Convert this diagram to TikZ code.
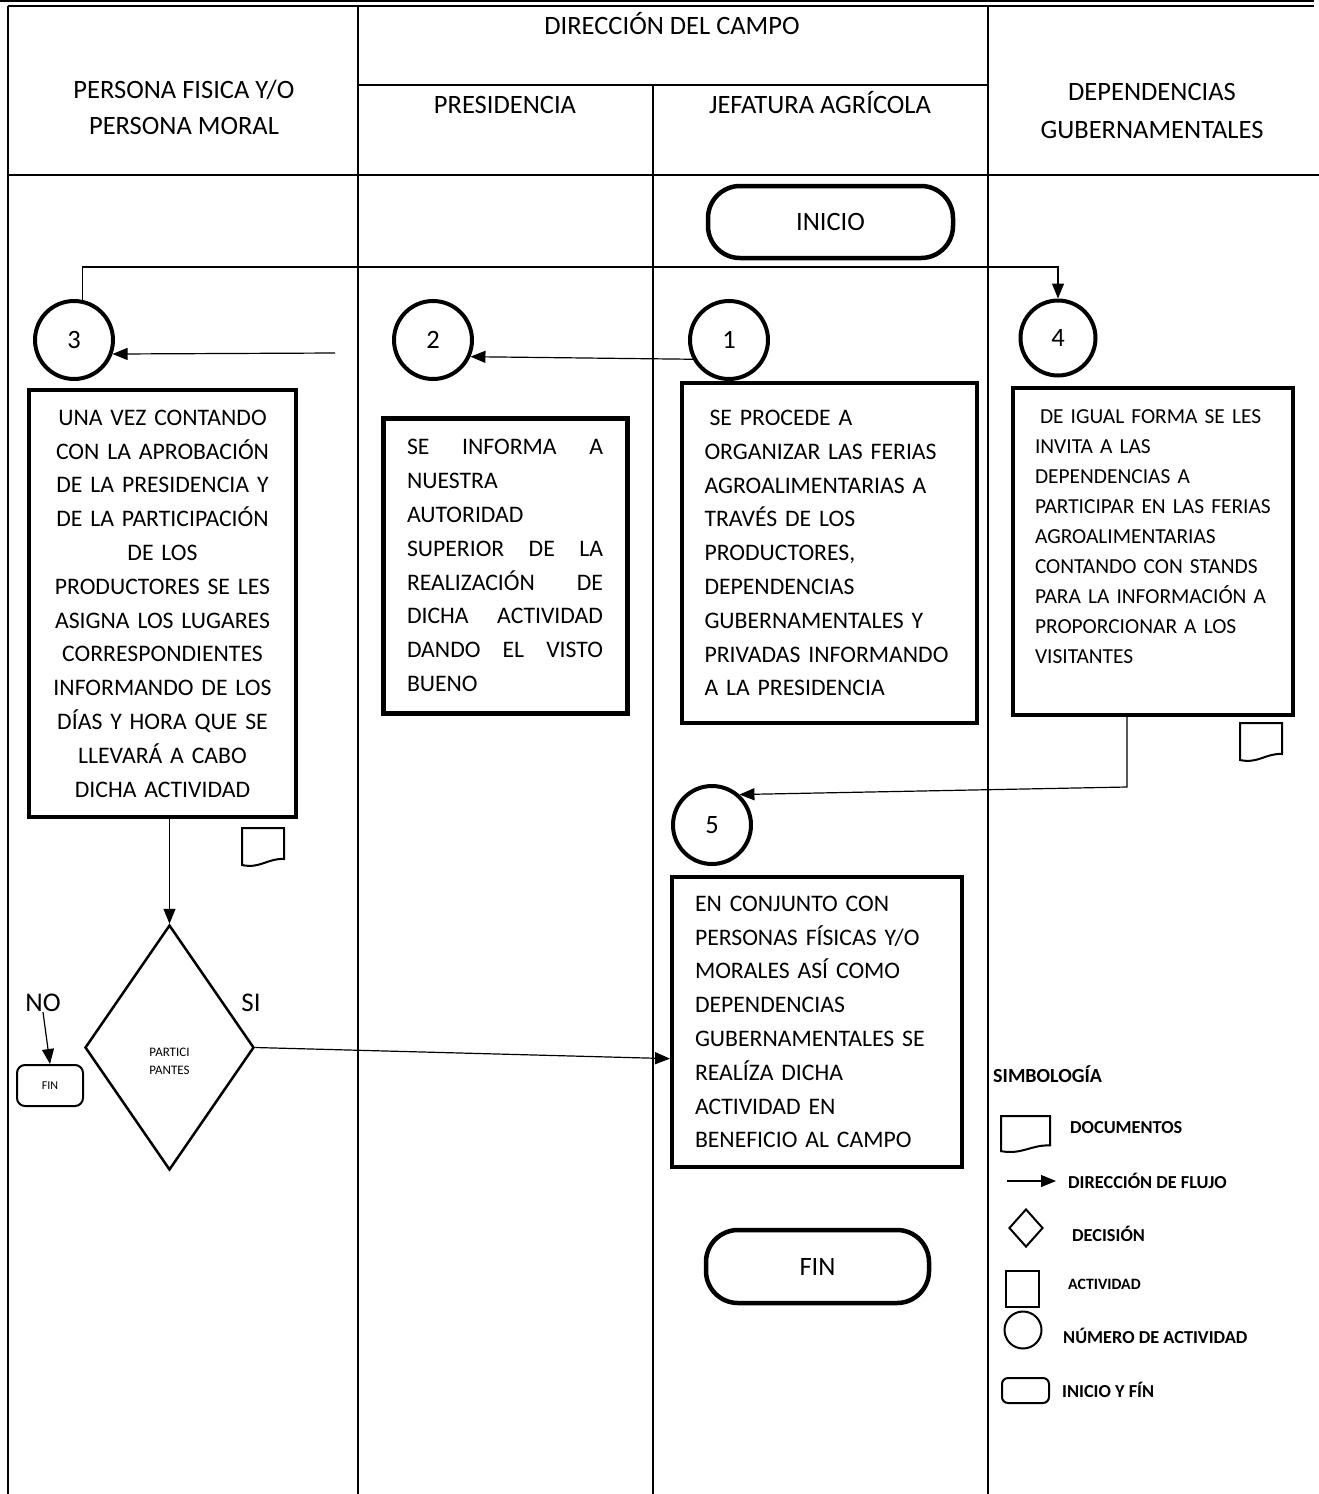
\documentclass[tikz,border=0pt]{standalone}
\usepackage{fontspec}
\setmainfont{Carlito}
\usetikzlibrary{shapes.geometric,arrows.meta}

\begin{document}
\begin{tikzpicture}[x=1pt, y=-1pt,
  every node/.style={inner sep=0pt},
  lane/.style={line width=2pt},
  hdr/.style={align=center, font=\fontsize{26.5}{36}\selectfont},
  actbox/.style={draw, line width=4pt, inner sep=4pt, font=\fontsize{23.7}{33.8}\selectfont},
  num/.style={draw, circle, line width=4pt, minimum size=78pt, font=\fontsize{26.5}{30}\selectfont},
  term/.style={draw, rounded corners=32pt, line width=4.5pt, font=\fontsize{26.5}{30}\selectfont},
  decision/.style={draw, diamond, line width=2.5pt, minimum width=169pt, minimum height=245pt},
  flow/.style={line width=1.2pt, -{Triangle[length=15pt,width=12pt]}},
  leg/.style={anchor=west, font=\bfseries\fontsize{18.3}{20}\selectfont},
  docicon/.pic={\draw[line width=2pt] (0,0) -- (42,0) -- (42,31) .. controls (26,30) and (18,41) .. (0,37) -- cycle;}
]
\useasboundingbox (0,0) rectangle (1319,1494);

% encabezado y carriles
\draw[line width=2.5pt] (0,1) -- (1314,1);
\draw[lane] (8,5.5) -- (1314,5.5);
\draw[lane] (8,5.5) -- (8,1494);
\draw[lane] (358,5.5) -- (358,1494);
\draw[lane] (988,5.5) -- (988,1494);
\draw[lane] (653,85) -- (653,1494);
\draw[lane] (358,85) -- (988,85);
\draw[lane] (8,175) -- (1319,175);

\node[hdr, anchor=base] (hcampo) at (672,34) {DIRECCIÓN DEL CAMPO};
\node[hdr] (hpersona) at (184,107) {PERSONA FISICA Y/O\\PERSONA MORAL};
\node[hdr, anchor=base] (hpres) at (505,113.5) {PRESIDENCIA};
\node[hdr, anchor=base] (hjef) at (820,113.5) {JEFATURA AGRÍCOLA};
\node[hdr, font=\fontsize{26.5}{38}\selectfont] (hdep) at (1152,111) {DEPENDENCIAS\\GUBERNAMENTALES};

% inicio y fin
\node[term, minimum width=245pt, minimum height=72pt] (inicio) at (830.5,222) {INICIO};
\node[term, minimum width=223pt, minimum height=73pt] (fin) at (817.5,1266.5) {FIN};

% numeros de actividad
\node[num] (c1) at (729,340) {1};
\node[num] (c2) at (433,340) {2};
\node[num] (c3) at (74,340) {3};
\node[num, minimum size=75pt] (c4) at (1058,338) {4};
\node[num] (c5) at (712,825) {5};

% actividades
\node[actbox, minimum width=295pt, minimum height=340pt, text width=250pt, align=left] (b1) at (829.5,553)
  {\hspace{5pt}SE PROCEDE A\\ORGANIZAR LAS FERIAS\\AGROALIMENTARIAS A\\TRAVÉS DE LOS\\PRODUCTORES,\\DEPENDENCIAS\\GUBERNAMENTALES Y\\PRIVADAS INFORMANDO\\A LA PRESIDENCIA};
\node[actbox, line width=5pt, minimum width=244pt, minimum height=295pt, text width=196pt, align=left] (b2) at (505,565.5)
  {SE\hfill INFORMA\hfill A\\NUESTRA\\AUTORIDAD\\SUPERIOR\hfill DE\hfill LA\\REALIZACIÓN\hfill DE\\DICHA\hfill ACTIVIDAD\\DANDO\hfill EL\hfill VISTO\\BUENO};
\node[actbox, minimum width=267pt, minimum height=427pt, text width=245pt, align=center] (b3) at (162.5,603.5)
  {UNA VEZ CONTANDO\\CON LA APROBACIÓN\\DE LA PRESIDENCIA Y\\DE LA PARTICIPACIÓN\\DE LOS\\PRODUCTORES SE LES\\ASIGNA LOS LUGARES\\CORRESPONDIENTES\\INFORMANDO DE LOS\\DÍAS Y HORA QUE SE\\LLEVARÁ A CABO\\DICHA ACTIVIDAD};
\node[actbox, minimum width=280pt, minimum height=327pt, text width=236pt, align=left, font=\fontsize{21.4}{29.9}\selectfont] (b4) at (1153,551.5)
  {\hspace{5pt}DE IGUAL FORMA SE LES\\INVITA A LAS\\DEPENDENCIAS A\\PARTICIPAR EN LAS FERIAS\\AGROALIMENTARIAS\\CONTANDO CON STANDS\\PARA LA INFORMACIÓN A\\PROPORCIONAR A LOS\\VISITANTES\\\mbox{}};
\node[actbox, minimum width=290pt, minimum height=290pt, text width=244pt, align=left] (b5) at (817,1022)
  {EN CONJUNTO CON\\PERSONAS FÍSICAS Y/O\\MORALES ASÍ COMO\\DEPENDENCIAS\\GUBERNAMENTALES SE\\REALÍZA DICHA\\ACTIVIDAD EN\\BENEFICIO AL CAMPO};

% decision
\node[decision, label={[align=center, font=\fontsize{13}{18}\selectfont, yshift=-14pt]center:PARTICI\\PANTES}] (dec) at (169.5,1047.5) {};
\node[draw, rounded corners=8pt, line width=2pt, minimum width=66pt, minimum height=41pt, font=\fontsize{12}{14}\selectfont] (fin0) at (50,1085.5) {FIN};
\node[font=\fontsize{27}{30}\selectfont] (no) at (43,1003) {NO};
\node[font=\fontsize{27}{30}\selectfont] (si) at (251,1003) {SI};

\pic at (242,828) {docicon};
\pic at (1240,723) {docicon};

% flujo
\draw[flow] (c1.208) -- (c2.-24);
\coordinate (p3) at (335,353);
\draw[flow] (p3) -- (c3.-20);
\coordinate (lazo) at (0,267);
\draw[flow] (c3.78) -- (c3.78 |- lazo) -| (c4.north);
\coordinate (k5) at (1127,787);
\draw[flow] (b4.south -| k5) -- (k5) -- (c5.48);
\draw[flow] (b3.south -| dec.north) -- (dec.north);
\draw[flow] (dec.east) -- (b5.194);
\draw[flow] (no.south) -- (fin0.north);

% simbologia
\node[leg, font=\bfseries\fontsize{20}{22}\selectfont] (simb) at (993,1074) {SIMBOLOGÍA};
\pic[xscale=1.17, yscale=0.95] at (1001,1116) {docicon};
\node[leg] (ldoc) at (1070,1128) {DOCUMENTOS};
\coordinate (la) at (1007,1181);
\coordinate (lb) at (1056,1181);
\draw[flow] (la) -- (lb);
\node[leg] (lflujo) at (1068,1181) {DIRECCIÓN DE FLUJO};
\node[draw, diamond, line width=2pt, minimum width=34pt, minimum height=38pt] (ldec) at (1026,1228) {};
\node[leg] (ldecl) at (1072,1234) {DECISIÓN};
\node[draw, line width=2pt, minimum width=33pt, minimum height=36pt] (lact) at (1022.5,1289) {};
\node[leg, font=\bfseries\fontsize{15.8}{18}\selectfont] (lactl) at (1068,1284) {ACTIVIDAD};
\node[draw, circle, line width=2pt, minimum size=37pt] (lnum) at (1023,1330) {};
\node[leg] (lnuml) at (1063,1336) {NÚMERO DE ACTIVIDAD};
\node[draw, rounded corners=6pt, line width=2pt, minimum width=47pt, minimum height=25pt] (lter) at (1025.5,1390.5) {};
\node[leg] (lterl) at (1062,1390) {INICIO Y FÍN};
\end{tikzpicture}
\end{document}
